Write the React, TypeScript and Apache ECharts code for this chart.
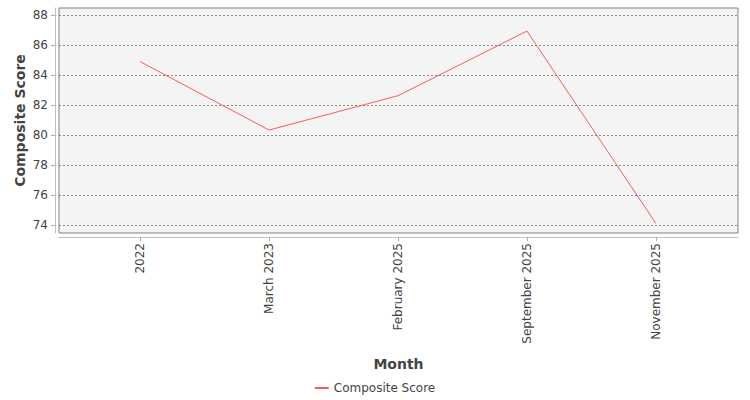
import React, { useEffect, useRef } from 'react';
import * as echarts from 'echarts';

const months = ['2022', 'March 2023', 'February 2025', 'September 2025', 'November 2025'];
const compositeScore = [84.9, 80.33, 82.62, 86.93, 74.1];
const yTicks = [74, 76, 78, 80, 82, 84, 86, 88];

const FONT = 'DejaVu Sans';

const App: React.FC = () => {
  const chartRef = useRef<HTMLDivElement>(null);

  useEffect(() => {
    if (!chartRef.current) return;
    const chart = echarts.init(chartRef.current, null, { renderer: 'svg' });
    const idx = months.map((_, i) => i);

    chart.setOption({
      animation: false,
      textStyle: { fontFamily: FONT },
      grid: {
        left: 59,
        right: 12,
        top: 8,
        bottom: 167,
        show: true,
        backgroundColor: '#f4f4f4',
        borderColor: '#808080',
        borderWidth: 1,
      },
      xAxis: {
        type: 'value',
        min: -0.628,
        max: 4.636,
        offset: 4,
        name: 'Month',
        nameLocation: 'middle',
        nameGap: 120,
        nameMoveOverlap: false,
        nameTextStyle: { fontFamily: FONT, fontSize: 14, fontWeight: 'bold', color: '#444' },
        axisLine: { show: true, onZero: false, lineStyle: { color: '#c0c0c0' } },
        axisTick: { show: true, length: 4, customValues: idx, lineStyle: { color: '#aaa' } },
        axisLabel: {
          customValues: idx,
          rotate: 90,
          margin: 6,
          fontFamily: FONT,
          fontSize: 12,
          color: '#444',
          formatter: (v: number) => months[Math.round(v)] ?? '',
        },
        splitLine: { show: false },
      },
      yAxis: {
        type: 'value',
        min: 73.467,
        max: 88.467,
        offset: 4,
        name: 'Composite Score',
        nameLocation: 'middle',
        nameGap: 28,
        nameMoveOverlap: false,
        nameTextStyle: { fontFamily: FONT, fontSize: 14, fontWeight: 'bold', color: '#444' },
        axisLine: { show: true, onZero: false, lineStyle: { color: '#c0c0c0' } },
        axisTick: { show: true, length: 4, customValues: yTicks, lineStyle: { color: '#aaa' } },
        axisLabel: {
          customValues: yTicks,
          margin: 7,
          fontFamily: FONT,
          fontSize: 12,
          color: '#444',
        },
        splitLine: { show: true, lineStyle: { color: '#8a8a8a', width: 1, type: [2, 2] } },
      },
      legend: {
        bottom: 1,
        left: 'center',
        itemWidth: 14,
        itemHeight: 2,
        itemGap: 10,
        icon: 'rect',
        textStyle: { fontFamily: FONT, fontSize: 12, color: '#444' },
        data: ['Composite Score'],
      },
      series: [
        {
          name: 'Composite Score',
          type: 'line',
          data: compositeScore.map((v, i) => [i, v]),
          showSymbol: false,
          symbol: 'none',
          itemStyle: { color: '#ff5a5a' },
          lineStyle: { color: '#ff5a5a', width: 1 },
        },
      ],
    });

    return () => chart.dispose();
  }, []);

  return (
    <div
      ref={chartRef}
      style={{ position: 'fixed', left: 0, top: 0, width: 750, height: 400, background: '#fff' }}
    />
  );
};

export default App;
